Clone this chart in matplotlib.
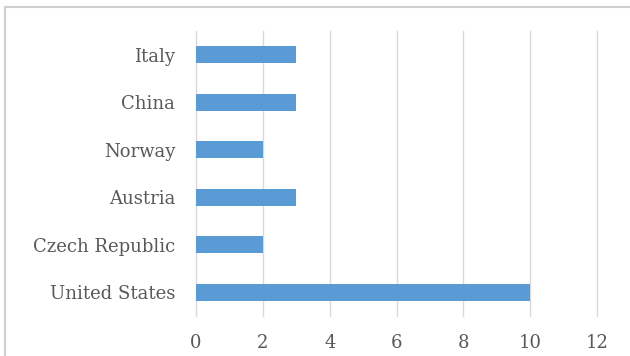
import matplotlib
matplotlib.use('Agg')
import matplotlib.pyplot as plt
from matplotlib.lines import Line2D

#%% Data
countries = ['United States', 'Czech Republic', 'Austria', 'Norway', 'China', 'Italy']
counts = [10, 2, 3, 2, 3, 3]
x_ticks = [0, 2, 4, 6, 8, 10, 12]

plt.rcParams['font.family'] = ['DejaVu Serif']

#%% Plot
fig = plt.figure(figsize=(6.3, 3.56), dpi=100)
ax = fig.add_axes([0.311, 0.112, 0.637, 0.801])

ax.barh(countries, counts, height=0.36, color='#5B9BD5', zorder=3)

ax.set_xlim(0, 12)
ax.set_ylim(-0.5, 5.5)
ax.set_xticks(x_ticks)
ax.grid(axis='x', color='#D9D9D9', linewidth=1.0, zorder=0)
for gl in ax.get_xgridlines():
    gl.set_clip_on(False)
for s in ax.spines.values():
    s.set_visible(False)
ax.tick_params(length=0, labelsize=13, labelcolor='#595959')
ax.tick_params(axis='x', pad=13)
ax.tick_params(axis='y', pad=15)

# outer chart frame: only the top and left edges are inside the image
top = 1 - 7/356
left = 5/630
fig.lines.append(Line2D([left, 1], [top, top], transform=fig.transFigure,
                        color='#D0D0D0', linewidth=1.5))
fig.lines.append(Line2D([left, left], [0, top], transform=fig.transFigure,
                        color='#D0D0D0', linewidth=1.5))

plt.savefig('out.png', dpi=100)
